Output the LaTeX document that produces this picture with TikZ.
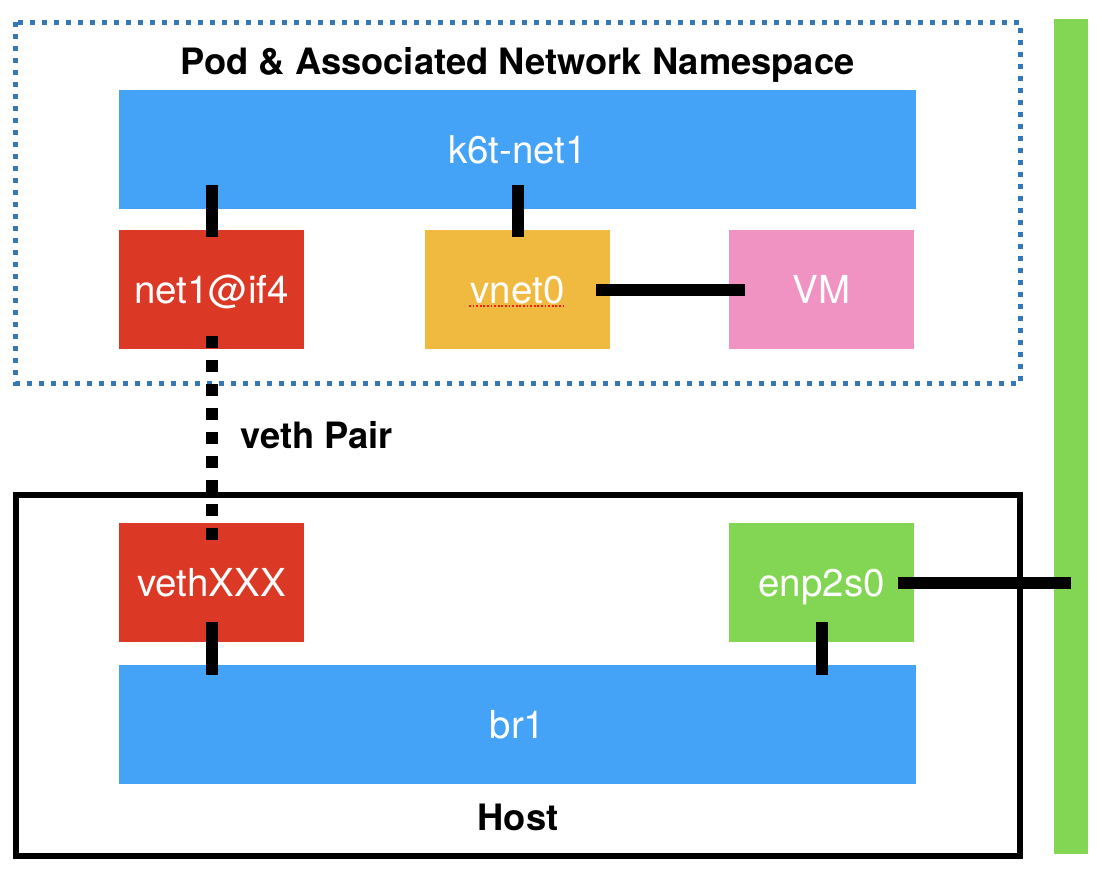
\documentclass[tikz,border=0pt]{standalone}
\usepackage{fontspec}
\setmainfont{TeX Gyre Heros}
\usepackage{tikz}

\definecolor{barblue}{HTML}{44A2F7}
\definecolor{ifred}{HTML}{DB3826}
\definecolor{vnetorange}{HTML}{F0BA41}
\definecolor{vmpink}{HTML}{F093C3}
\definecolor{nicgreen}{HTML}{83D554}
\definecolor{nsblue}{HTML}{3478B8}

\begin{document}
\begin{tikzpicture}[x=1pt,y=-1pt,
   box/.style={inner sep=0pt,minimum height=119pt,text=white,
     font=\fontsize{38.5}{41}\selectfont,text height=27.7pt,text depth=0pt},
   smallbox/.style={box,minimum width=185pt},
   widebox/.style={box,minimum width=797pt,fill=barblue},
   link/.style={line width=12pt,black},
   title/.style={font=\bfseries\fontsize{36.3}{39}\selectfont,anchor=base}]
  \useasboundingbox (0,0) rectangle (1102,876);

  % pod namespace
  \draw [nsblue,line width=5pt,dash pattern=on 5pt off 7pt] (15.5,22) rectangle (1020,383);
  \node [title] (podtitle) at (517.5,74) {Pod \& Associated Network Namespace};
  \node [widebox] (k6t) at (517.5,149.5) {k6t-net1};
  \node [smallbox,fill=ifred] (net1) at (211.5,289.5) {net1@if4};
  \node [smallbox,fill=vnetorange] (vnet0) at (517.5,289.5) {vnet0};
  \node [smallbox,fill=vmpink] (vm) at (821.5,289.5) {VM};
  \draw [red!80!orange,line width=1.8pt,dash pattern=on 1.8pt off 1.8pt] (469,306) -- (563,306);

  % host
  \draw [line width=6pt] (15.5,495) rectangle (1020,856);
  \node [title] (hosttitle) at (518,830) {Host};
  \node [smallbox,fill=ifred] (veth) at (211.5,582.5) {vethXXX};
  \node [smallbox,fill=nicgreen] (enp) at (821.5,582.5) {enp2s0};
  \node [widebox] (br1) at (517.5,724.5) {br1};

  % uplink
  \node [fill=nicgreen,inner sep=0pt,minimum width=34pt,minimum height=835pt] (uplink) at (1071,436.5) {};

  \draw [link] ([yshift=-7pt]net1.north) -- ([yshift=24pt]net1.north |- k6t.south);
  \draw [link] ([yshift=-7pt,xshift=0.5pt]vnet0.north) -- ([yshift=24pt,xshift=0.5pt]vnet0.north |- k6t.south);
  \draw [link] ([xshift=-14pt]vnet0.east) -- ([xshift=16pt]vm.west);
  \draw [link,dash pattern=on 12pt off 12pt] ([yshift=13pt]net1.south) -- ([yshift=-17pt]veth.north);
  \node [title,anchor=base west] (vethpair) at (237,448) {veth Pair};
  \draw [link] ([yshift=20pt]veth.south) -- ([yshift=-10pt]veth.south |- br1.north);
  \draw [link] ([yshift=20pt,xshift=0.5pt]enp.south) -- ([yshift=-10pt,xshift=0.5pt]enp.south |- br1.north);
  \draw [link] ([xshift=-16pt]enp.east) -- (uplink.center |- enp.east);
\end{tikzpicture}
\end{document}
